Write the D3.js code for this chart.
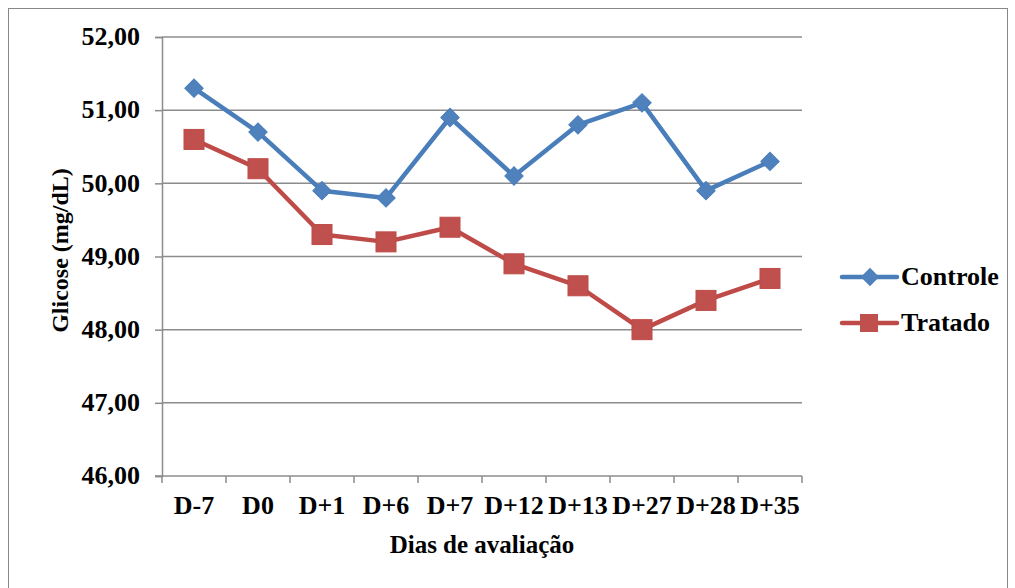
<!DOCTYPE html>
<html>
<head>
<meta charset="utf-8">
<script src="https://cdn.jsdelivr.net/npm/d3@7"></script>
<style>
  body { margin: 0; background: #fff; }
</style>
</head>
<body>
<div id="chart"></div>
<script>
const dias = ["D-7", "D0", "D+1", "D+6", "D+7", "D+12", "D+13", "D+27", "D+28", "D+35"];
const controle = [51.3, 50.7, 49.9, 49.8, 50.9, 50.1, 50.8, 51.1, 49.9, 50.3];
const tratado = [50.6, 50.2, 49.3, 49.2, 49.4, 48.9, 48.6, 48.0, 48.4, 48.7];
const yTicks = [46, 47, 48, 49, 50, 51, 52];

const width = 1015, height = 588;
const margin = { top: 37, right: 213, bottom: 112, left: 162 };
const FONT = "Liberation Serif";

const svg = d3.select("#chart").append("svg")
  .attr("width", width).attr("height", height);

// chart border
svg.append("rect")
  .attr("x", 8.5).attr("y", 8.5)
  .attr("width", 999).attr("height", 590)
  .attr("fill", "none").attr("stroke", "#888").attr("stroke-width", 1);

const x = d3.scaleBand().domain(dias)
  .range([margin.left, width - margin.right]);
const y = d3.scaleLinear().domain([46, 52])
  .range([height - margin.bottom, margin.top]);

const fmt = d => d3.format(".2f")(d).replace(".", ",");

// gridlines
svg.append("g").selectAll("line")
  .data(yTicks.filter(d => d > 46))
  .join("line")
  .attr("x1", margin.left).attr("x2", width - margin.right)
  .attr("y1", d => y(d)).attr("y2", d => y(d))
  .attr("stroke", "#8c8c8c").attr("stroke-width", 1.5);

// y axis
const yAxis = svg.append("g")
  .attr("transform", `translate(${margin.left},0)`)
  .call(d3.axisLeft(y).tickValues(yTicks).tickFormat(fmt).tickSize(7).tickPadding(15));
yAxis.select(".domain").attr("stroke", "#8c8c8c").attr("stroke-width", 1.5);
yAxis.selectAll(".tick line").attr("stroke", "#8c8c8c").attr("stroke-width", 1.5);
yAxis.selectAll("text")
  .attr("font-family", FONT).attr("font-weight", "bold").attr("font-size", 26)
  .attr("dy", "0.3em").attr("fill", "#000");

// x axis with ticks on band boundaries
const xAxis = svg.append("g")
  .attr("transform", `translate(0,${y(46)})`)
  .call(d3.axisBottom(x).tickSize(0).tickPadding(20));
xAxis.select(".domain").remove();
xAxis.append("line")
  .attr("x1", margin.left - 7).attr("x2", width - margin.right)
  .attr("stroke", "#8c8c8c").attr("stroke-width", 1.5);
xAxis.selectAll(".bnd")
  .data(dias.map(d => x(d)).concat([x(dias[dias.length - 1]) + x.bandwidth()]))
  .join("line")
  .attr("class", "bnd")
  .attr("x1", d => d).attr("x2", d => d)
  .attr("y1", 0).attr("y2", 7)
  .attr("stroke", "#8c8c8c").attr("stroke-width", 1.5);
xAxis.selectAll("text")
  .attr("font-family", FONT).attr("font-weight", "bold").attr("font-size", 26)
  .attr("fill", "#000");

// axis titles
svg.append("text")
  .attr("x", (margin.left + width - margin.right) / 2)
  .attr("y", 553)
  .attr("text-anchor", "middle")
  .attr("font-family", FONT).attr("font-weight", "bold").attr("font-size", 25)
  .text("Dias de avaliação");

svg.append("text")
  .attr("transform", `translate(68,${(margin.top + y(46)) / 2 - 6}) rotate(-90)`)
  .attr("text-anchor", "middle")
  .attr("font-family", FONT).attr("font-weight", "bold").attr("font-size", 24)
  .text("Glicose (mg/dL)");

const cx = d => x(d) + x.bandwidth() / 2;
const line = d3.line().x((d, i) => cx(dias[i])).y(d => y(d));

const blue = "#4A7EBB", red = "#BE4B48";

function series(vals, color, marker) {
  svg.append("path").datum(vals)
    .attr("d", line).attr("fill", "none")
    .attr("stroke", color).attr("stroke-width", 4.5)
    .attr("stroke-linejoin", "round").attr("stroke-linecap", "round");
  const g = svg.append("g");
  if (marker === "diamond") {
    g.selectAll("rect").data(vals).join("rect")
      .attr("x", -6.5).attr("y", -6.5).attr("width", 13).attr("height", 13)
      .attr("fill", "#4F81BD").attr("stroke", color).attr("stroke-width", 1)
      .attr("transform", (d, i) => `translate(${cx(dias[i])},${y(d)}) rotate(45)`);
  } else {
    g.selectAll("rect").data(vals).join("rect")
      .attr("x", (d, i) => cx(dias[i]) - 10).attr("y", d => y(d) - 10)
      .attr("width", 20).attr("height", 20)
      .attr("fill", "#C0504D").attr("stroke", color).attr("stroke-width", 1);
  }
}
series(controle, blue, "diamond");
series(tratado, red, "square");

// legend
const legend = [
  { name: "Controle", color: blue, marker: "diamond", y: 277 },
  { name: "Tratado", color: red, marker: "square", y: 323 }
];
legend.forEach(l => {
  const g = svg.append("g").attr("transform", `translate(842,${l.y})`);
  g.append("line").attr("x1", 0).attr("x2", 55)
    .attr("stroke", l.color).attr("stroke-width", 4.5).attr("stroke-linecap", "round");
  if (l.marker === "diamond") {
    g.append("rect").attr("x", -6.5).attr("y", -6.5).attr("width", 13).attr("height", 13)
      .attr("fill", "#4F81BD").attr("transform", "translate(28,0) rotate(45)");
  } else {
    g.append("rect").attr("x", 18).attr("y", -9).attr("width", 18).attr("height", 18)
      .attr("fill", "#C0504D");
  }
  g.append("text").attr("x", 59).attr("y", 8)
    .attr("font-family", FONT).attr("font-weight", "bold").attr("font-size", 26)
    .text(l.name);
});
</script>
</body>
</html>
